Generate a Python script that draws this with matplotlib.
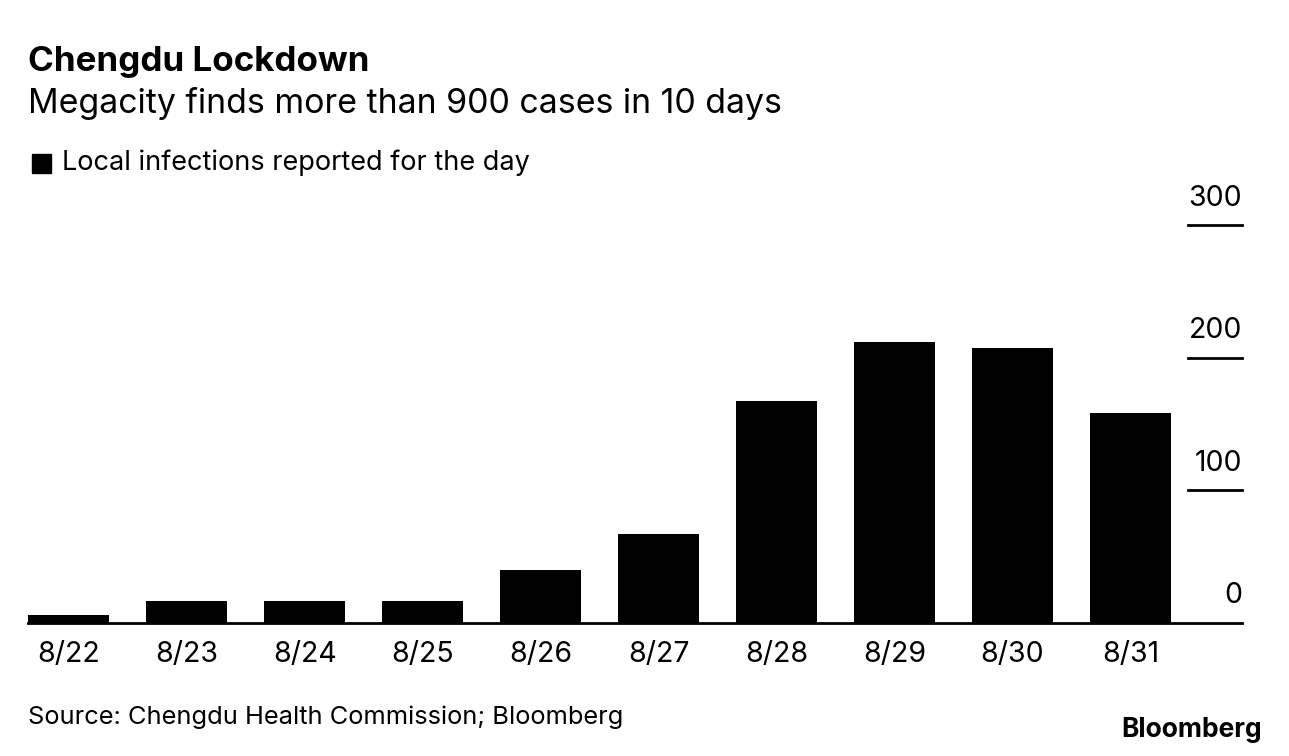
import matplotlib.pyplot as plt
import matplotlib.transforms as mtransforms
from matplotlib.patches import Rectangle

plt.rcParams['font.family'] = ['Inter', 'DejaVu Sans']

days = ["8/22", "8/23", "8/24", "8/25", "8/26", "8/27", "8/28", "8/29", "8/30", "8/31"]
cases = [6, 16, 16, 16, 40, 67, 167, 212, 207, 158]
yticks = [0, 100, 200, 300]

W, H = 1289, 756
fig = plt.figure(figsize=(W / 100, H / 100), dpi=100)
ax = fig.add_axes([28 / W, (H - 622.7) / H, (1242 - 28) / W, (622.7 - 225) / H])

x = list(range(len(days)))
ax.bar(x, cases, width=0.69, color="black")
ax.set_xlim(-0.345, 9.945)
ax.set_ylim(0, 300)

for s in ["top", "right", "left"]:
    ax.spines[s].set_visible(False)
ax.spines["bottom"].set_linewidth(2)
ax.set_yticks([])
ax.set_xticks(x)
ax.set_xticklabels(days, fontsize=20.5)
ax.tick_params(axis="x", length=0, pad=13)

# short right-side tick lines with labels above
trans = mtransforms.blended_transform_factory(ax.transAxes, ax.transData)
for v in yticks:
    if v > 0:
        ax.plot([0.9555, 1.0], [v, v], color="black", lw=2, transform=trans, clip_on=False)
    ax.text(1.0, v + 10, str(v), transform=trans, ha="right", va="bottom", fontsize=20.5)

fig.text(28 / W, 1 - 62 / H, "Chengdu Lockdown", fontsize=25.2, fontweight="bold", va="center")
fig.text(28 / W, 1 - 103 / H, "Megacity finds more than 900 cases in 10 days", fontsize=24.4, va="center")
fig.add_artist(Rectangle((32 / W, 1 - 173 / H), 19 / W, 19 / H, transform=fig.transFigure,
                         color="black"))
fig.text(62 / W, 1 - 163 / H, "Local infections reported for the day", fontsize=19.5, va="center")
fig.text(28 / W, 1 - 717 / H, "Source: Chengdu Health Commission; Bloomberg", fontsize=18.3, va="center")
fig.text(1262 / W, 1 - 730 / H, "Bloomberg", fontsize=19, fontweight="bold", ha="right", va="center")

plt.savefig("out.png", dpi=100)
